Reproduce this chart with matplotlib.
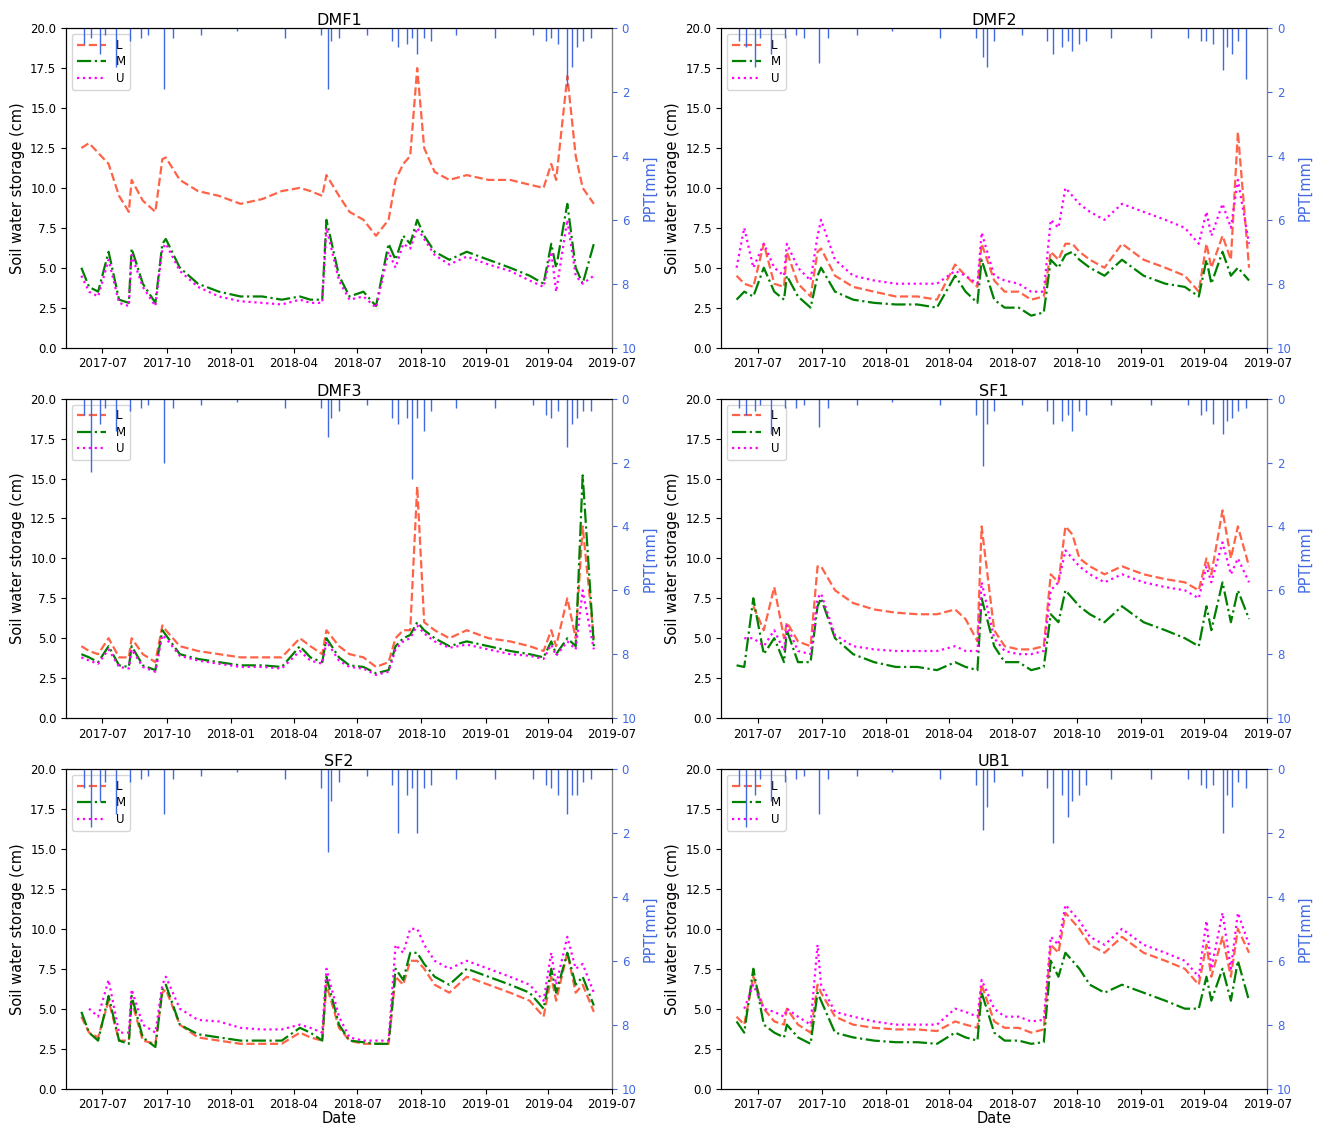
import matplotlib
matplotlib.use("Agg")
import matplotlib.pyplot as plt
import matplotlib.dates as mdates
import numpy as np
import pandas as pd

dates = pd.to_datetime(["2017-06-01","2017-06-12","2017-06-25","2017-07-10","2017-07-25","2017-08-08","2017-08-12",
"2017-08-28","2017-09-15","2017-09-25","2017-09-30","2017-10-20","2017-11-15","2017-12-15","2018-01-15","2018-02-15",
"2018-03-15","2018-04-10","2018-04-25","2018-05-12","2018-05-18","2018-06-05","2018-06-20","2018-07-10","2018-07-28",
"2018-08-15","2018-08-25","2018-09-05","2018-09-15","2018-09-25","2018-10-05","2018-10-20","2018-11-10","2018-12-05",
"2019-01-05","2019-02-05","2019-03-05","2019-03-25","2019-04-05","2019-04-12","2019-04-28","2019-05-10","2019-05-20","2019-06-05"])
nan = np.nan
sites = ["DMF1","DMF2","DMF3","SF1","SF2","UB1"]
L = {
"DMF1":[12.5,12.8,12.2,11.5,9.5,8.5,10.5,9.2,8.5,11.8,11.9,10.5,9.8,9.5,9.0,9.3,9.8,10.0,9.8,9.5,10.8,9.5,8.5,8.0,7.0,8.0,10.5,11.5,12.0,17.5,12.5,11.0,10.5,10.8,10.5,10.5,10.2,10.0,11.5,10.5,17.0,12.0,10.0,9.0],
"DMF2":[4.5,4.0,3.8,6.5,4.0,3.8,6.0,4.0,3.2,6.0,6.2,4.5,3.8,3.5,3.2,3.2,3.0,5.2,4.5,3.8,6.5,4.2,3.5,3.5,3.0,3.2,6.0,5.5,6.5,6.5,6.0,5.5,5.0,6.5,5.5,5.0,4.5,3.5,6.5,5.0,7.0,5.5,13.5,5.0],
"DMF3":[4.5,4.2,4.0,5.0,3.8,3.8,5.0,4.0,3.5,5.8,5.5,4.5,4.2,4.0,3.8,3.8,3.8,5.0,4.5,4.0,5.5,4.5,4.0,3.8,3.2,3.5,5.0,5.5,5.5,14.5,6.0,5.5,5.0,5.5,5.0,4.8,4.5,4.2,5.5,4.5,7.5,5.0,12.0,5.0],
"SF1":[nan,nan,7.0,5.5,8.2,5.0,6.0,4.8,4.5,9.5,9.5,8.0,7.2,6.8,6.6,6.5,6.5,6.8,6.2,4.8,12.0,5.5,4.5,4.3,4.3,4.5,9.0,8.5,12.0,11.5,10.0,9.5,9.0,9.5,9.0,8.7,8.5,8.0,10.0,9.0,13.0,10.0,12.0,9.5],
"SF2":[4.5,3.5,3.2,5.5,3.0,3.0,5.5,3.0,2.8,6.0,6.2,4.0,3.2,3.0,2.8,2.8,2.8,3.5,3.2,3.0,6.5,3.8,3.0,2.8,2.8,2.8,7.0,6.5,8.0,8.0,7.5,6.5,6.0,7.0,6.5,6.0,5.5,4.5,7.0,5.5,8.5,6.0,6.5,4.8],
"UB1":[4.5,4.0,7.0,5.0,4.2,4.0,5.0,4.0,3.5,6.5,6.0,4.5,4.0,3.8,3.7,3.7,3.6,4.2,4.0,3.8,6.5,4.2,3.8,3.8,3.5,3.7,9.0,8.5,11.0,10.5,10.0,9.0,8.5,9.5,8.5,8.0,7.5,6.5,9.0,7.0,9.5,7.0,10.0,8.5],
}
M = {
"DMF1":[5.0,3.8,3.5,6.0,3.0,2.8,6.2,4.0,2.8,6.5,6.8,5.0,4.0,3.5,3.2,3.2,3.0,3.2,3.0,3.0,8.0,4.5,3.2,3.5,2.6,6.5,5.5,7.0,6.5,8.0,7.0,6.0,5.5,6.0,5.5,5.0,4.5,4.0,6.5,5.0,9.0,5.0,4.0,6.5],
"DMF2":[3.0,3.5,3.2,5.0,3.5,3.0,4.5,3.2,2.5,4.5,5.0,3.5,3.0,2.8,2.7,2.7,2.5,4.5,3.5,2.8,5.5,3.0,2.5,2.5,2.0,2.2,5.5,5.0,5.8,6.0,5.5,5.0,4.5,5.5,4.5,4.0,3.8,3.2,5.5,4.0,6.0,4.5,5.0,4.2],
"DMF3":[4.0,3.8,3.5,4.5,3.3,3.2,4.5,3.3,3.0,5.5,5.2,4.0,3.7,3.5,3.3,3.3,3.2,4.5,3.8,3.5,5.0,3.8,3.3,3.2,2.8,3.0,4.5,5.0,5.2,6.0,5.5,5.0,4.5,4.8,4.5,4.2,4.0,3.8,4.8,4.0,5.0,4.5,15.2,4.5],
"SF1":[3.3,3.2,7.5,4.0,5.0,3.5,5.5,3.5,3.5,7.0,7.5,5.0,4.0,3.5,3.2,3.2,3.0,3.5,3.2,3.0,7.5,4.5,3.5,3.5,3.0,3.2,6.5,6.0,8.0,7.5,7.0,6.5,6.0,7.0,6.0,5.5,5.0,4.5,7.0,5.5,8.5,6.0,8.0,6.2],
"SF2":[4.8,3.5,3.0,5.8,3.0,2.8,5.8,3.2,2.6,6.2,6.5,4.0,3.4,3.2,3.0,3.0,3.0,3.8,3.5,3.0,7.0,4.0,3.0,2.9,2.8,2.8,7.5,6.8,8.5,8.5,7.8,7.0,6.5,7.5,7.0,6.5,6.0,5.0,7.5,6.0,8.5,6.5,7.0,5.2],
"UB1":[4.2,3.5,7.5,4.0,3.5,3.2,4.0,3.2,2.8,6.0,5.5,3.5,3.2,3.0,2.9,2.9,2.8,3.5,3.2,3.0,6.0,3.5,3.0,3.0,2.8,2.9,8.0,7.0,8.5,8.0,7.5,6.5,6.0,6.5,6.0,5.5,5.0,5.0,7.0,5.5,7.5,5.5,8.0,5.5],
}
U = {
"DMF1":[4.5,3.5,3.2,5.5,2.8,2.6,5.8,3.8,2.6,6.2,6.5,4.8,3.8,3.2,2.9,2.8,2.7,3.0,2.8,2.8,7.5,4.2,3.0,3.2,2.5,6.0,5.0,6.5,6.2,7.5,6.8,5.8,5.2,5.7,5.2,4.8,4.2,3.8,6.0,3.5,8.0,4.5,4.0,4.5],
"DMF2":[5.0,7.5,5.0,6.5,5.0,4.5,6.5,5.0,4.2,7.0,8.0,5.5,4.5,4.2,4.0,4.0,4.0,4.8,4.5,4.0,7.2,4.5,4.2,4.0,3.5,3.5,8.0,7.5,10.0,9.5,9.0,8.5,8.0,9.0,8.5,8.0,7.5,6.5,8.5,7.0,9.0,7.5,10.5,6.5],
"DMF3":[3.8,3.6,3.4,4.3,3.2,3.1,4.3,3.2,2.9,5.2,5.0,3.9,3.6,3.4,3.2,3.2,3.1,4.2,3.6,3.4,4.8,3.6,3.2,3.1,2.7,2.9,4.3,4.8,5.0,5.8,5.3,4.8,4.4,4.6,4.3,4.0,3.9,3.7,4.6,3.9,4.8,4.3,8.0,4.3],
"SF1":[nan,5.0,5.0,4.5,5.5,4.2,5.8,4.2,4.0,7.5,7.8,5.2,4.5,4.3,4.2,4.2,4.2,4.5,4.2,4.2,8.5,5.0,4.2,4.0,4.0,4.2,8.0,8.5,10.5,10.0,9.5,9.0,8.5,9.0,8.5,8.2,8.0,7.5,9.5,8.5,11.0,9.0,10.0,8.5],
"SF2":[nan,5.0,4.5,6.8,3.5,3.5,6.2,4.0,3.5,6.5,7.0,5.0,4.3,4.2,3.8,3.7,3.7,4.0,3.8,3.5,7.5,4.5,3.2,3.0,3.0,3.0,9.0,8.5,10.0,10.0,9.0,8.0,7.5,8.0,7.5,7.0,6.5,5.5,8.5,6.5,9.5,7.5,7.8,6.0],
"UB1":[nan,5.0,6.5,5.0,4.8,4.5,5.0,4.5,4.0,9.0,6.5,4.8,4.5,4.2,4.0,4.0,4.0,5.0,4.8,4.5,6.8,5.0,4.5,4.5,4.2,4.3,9.5,9.0,11.5,11.0,10.5,9.5,9.0,10.0,9.0,8.5,8.0,7.0,10.5,7.5,11.0,7.5,11.0,9.0],
}
rain_dates = pd.to_datetime(["2017-06-05","2017-06-15","2017-06-28","2017-07-05","2017-07-20","2017-08-10","2017-08-25",
"2017-09-05","2017-09-27","2017-10-10","2017-11-20","2018-01-10","2018-03-20","2018-05-10","2018-05-20","2018-05-25",
"2018-06-05","2018-07-15","2018-08-20","2018-08-28","2018-09-10","2018-09-18","2018-09-25","2018-10-05","2018-10-15",
"2018-11-20","2019-01-15","2019-03-10","2019-03-28","2019-04-05","2019-04-15","2019-04-28","2019-05-05","2019-05-12",
"2019-05-20","2019-06-01"])
rain = {
"DMF1":[.5,.3,.8,.2,1.2,.4,.3,.2,1.9,.3,.2,.1,.3,.2,1.9,.4,.3,.2,.4,.6,.5,.3,.8,.3,.4,.2,.3,.2,.4,.3,.5,1.8,1.2,.6,.4,.3],
"DMF2":[.4,.6,1.2,.3,.8,.3,.2,.3,1.1,.3,.2,.1,.3,.3,.9,1.2,.4,.2,.4,.8,.6,.4,.7,.5,.4,.3,.3,.3,.4,.4,.5,1.3,.6,.8,.4,1.6],
"DMF3":[.5,2.3,.8,.3,1.0,.4,.3,.2,2.0,.3,.2,.1,.3,.3,1.2,.6,.4,.2,.6,.8,.6,2.5,.6,1.0,.4,.3,.3,.2,.5,.6,.4,1.5,.8,.6,.4,.4],
"SF1":[.3,.5,.4,.2,1.1,.3,.3,.2,.9,.3,.2,.1,.2,.5,2.1,.8,.4,.2,.4,.8,.7,.5,1.0,.4,.5,.2,.2,.2,.5,.4,.8,1.1,.7,.6,.4,.3],
"SF2":[.6,1.8,1.0,.4,1.4,.4,.3,.2,1.4,.3,.2,.1,.3,.6,2.6,1.0,.4,.2,.5,2.0,.8,.6,2.0,.6,.5,.3,.3,.3,.5,.6,.8,1.4,.8,.8,.4,.3],
"UB1":[.5,1.8,.8,.3,1.0,.4,.3,.2,1.4,.3,.2,.1,.3,.5,1.9,1.2,.4,.2,.6,2.3,.8,1.5,1.0,.8,.5,.3,.3,.3,.5,.6,.5,2.0,.8,1.2,.4,.6],
}

fig, axes = plt.subplots(3, 2, figsize=(13.2, 11.28), dpi=100)
xmin, xmax = pd.Timestamp("2017-05-10"), pd.Timestamp("2019-07-01")
for i, (ax, s) in enumerate(zip(axes.flat, sites)):
    ax.plot(dates, L[s], color="tomato", ls="--", lw=1.6, label="L")
    ax.plot(dates, M[s], color="green", ls="-.", lw=1.6, label="M")
    ax.plot(dates, U[s], color="magenta", ls=":", lw=1.6, label="U")
    ax.set_ylim(0, 20)
    ax.set_xlim(xmin, xmax)
    ax.set_title(s, fontsize=11.5, pad=2)
    ax.set_ylabel("Soil water storage (cm)", fontsize=10.5)
    ax.xaxis.set_major_locator(mdates.MonthLocator(bymonth=[1, 4, 7, 10]))
    ax.xaxis.set_major_formatter(mdates.DateFormatter("%Y-%m"))
    ax.tick_params(labelsize=8.5)
    ax.legend(loc="upper left", fontsize=8.5, handlelength=2.5, labelspacing=0.3)
    if i >= 4:
        ax.set_xlabel("Date", fontsize=10.5, labelpad=0)
    ax2 = ax.twinx()
    ax2.vlines(rain_dates, 0, rain[s], color="royalblue", lw=1)
    ax2.axhline(0, color="royalblue", lw=1.5)
    ax2.set_ylim(10, 0)
    ax2.set_ylabel("PPT[mm]", color="royalblue", fontsize=10.5)
    ax2.tick_params(axis="y", colors="royalblue", labelsize=8.5)
    ax2.spines["right"].set_color("gray")
fig.subplots_adjust(left=0.05, right=0.96, top=0.975, bottom=0.035, hspace=0.16, wspace=0.2)
fig.savefig("out.png")
